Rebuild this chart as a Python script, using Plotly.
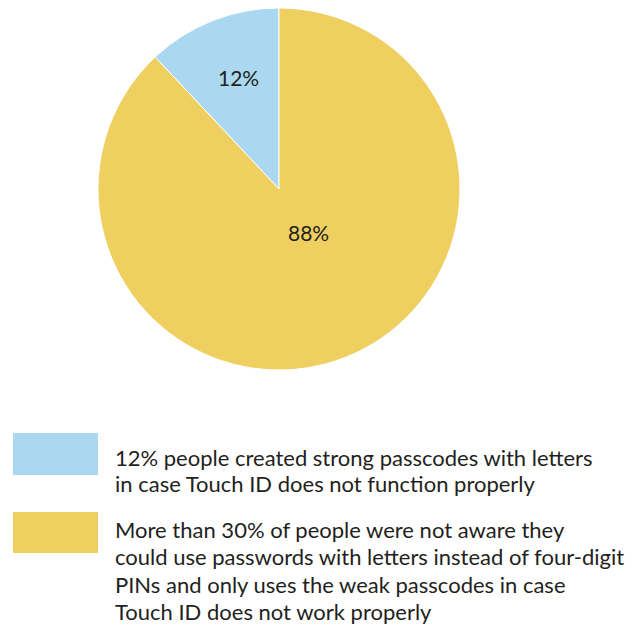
import plotly.graph_objects as go

labels = ["Strong passcodes with letters", "Weak passcodes"]
values = [12, 88]
colors = ["#A9D8F0", "#EFCF5F"]
legend_lines = [
    ["12% people created strong passcodes with letters",
     "in case Touch ID does not function properly"],
    ["More than 30% of people were not aware they",
     "could use passwords with letters instead of four-digit",
     "PINs and only uses the weak passcodes in case",
     "Touch ID does not work properly"],
]

W, H = 632, 628
FONT = "Lato"
TXT = "#231F20"

fig = go.Figure(go.Pie(
    labels=labels, values=values, sort=False, direction="clockwise",
    rotation=-360 * values[0] / sum(values),
    marker=dict(colors=colors, line=dict(color="white", width=1)),
    textinfo="none",
    domain=dict(x=[98 / W, 460 / W], y=[1 - 370 / H, 1 - 8 / H]),
    showlegend=False, hoverinfo="label+percent",
))

# slice percentage labels placed as in the original artwork
total = sum(values)
label_pos = [(238, 77), (308, 233)]
annotations = []
for v, (px, py) in zip(values, label_pos):
    annotations.append(dict(text=f"{round(100 * v / total)}%", xref="paper", yref="paper",
                            x=px / W, y=1 - py / H, xanchor="center", yanchor="middle",
                            showarrow=False, font=dict(family=FONT, size=21, color=TXT)))

box_tops = [433, 512]
box_h = [42, 41]
line_y = [[457, 483], [529, 556, 584, 611]]
shapes = []
for i, lines in enumerate(legend_lines):
    shapes.append(dict(type="rect", xref="paper", yref="paper",
                       x0=13 / W, x1=98 / W,
                       y0=1 - (box_tops[i] + box_h[i]) / H, y1=1 - box_tops[i] / H,
                       fillcolor=colors[i], line=dict(width=0)))
    for txt, yy in zip(lines, line_y[i]):
        annotations.append(dict(text=txt, xref="paper", yref="paper",
                                x=113 / W, y=1 - yy / H, xanchor="left", yanchor="middle",
                                showarrow=False, align="left",
                                font=dict(family=FONT, size=22, color=TXT)))

fig.update_layout(width=W, height=H, margin=dict(l=0, r=0, t=0, b=0),
                  paper_bgcolor="white", plot_bgcolor="white",
                  shapes=shapes, annotations=annotations)
fig.write_html("out.html")
